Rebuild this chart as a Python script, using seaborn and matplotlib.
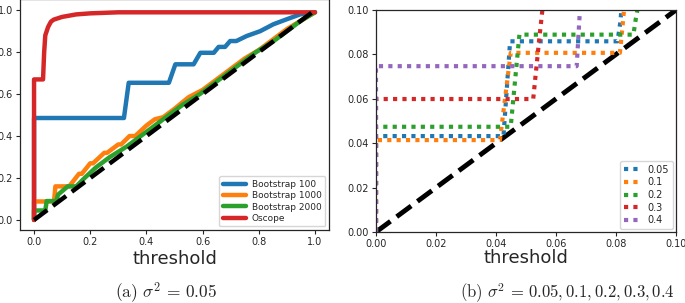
import numpy as np
import pandas as pd
import seaborn as sns
import matplotlib
matplotlib.use("Agg")
import matplotlib.pyplot as plt

sns.set_style("ticks")
plt.rcParams['font.family'] = ['DejaVu Sans']
plt.rcParams['mathtext.fontset'] = 'cm'

# ---------------- Panel (a) data ----------------
diag_x = [0.0, 1.0]
diag_y = [0.0, 1.0]

b100_x = [0.0, 0.0, 0.32, 0.337, 0.48, 0.503, 0.568, 0.592, 0.64, 0.657, 0.68, 0.698, 0.72,
          0.757, 0.805, 0.852, 0.9, 0.947, 1.0]
b100_y = [0.0, 0.486, 0.486, 0.654, 0.654, 0.742, 0.742, 0.797, 0.797, 0.825, 0.825, 0.853, 0.853,
          0.877, 0.90, 0.933, 0.957, 0.98, 0.99]

b1000_x = [0.0, 0.0, 0.071, 0.076, 0.12, 0.125, 0.16, 0.17, 0.2, 0.21, 0.25, 0.26, 0.3, 0.31,
           0.34, 0.36, 0.4, 0.43, 0.46, 0.5, 0.55, 0.6, 0.65, 0.7, 0.75, 0.8, 0.85, 0.9, 0.95, 1.0]
b1000_y = [0.0, 0.088, 0.088, 0.16, 0.16, 0.16, 0.22, 0.22, 0.27, 0.27, 0.32, 0.32, 0.36, 0.36,
           0.40, 0.40, 0.45, 0.48, 0.49, 0.53, 0.585, 0.62, 0.67, 0.72, 0.77, 0.81, 0.86, 0.91, 0.95, 0.99]

b2000_x = [0.0, 0.0, 0.04, 0.045, 0.08, 0.085, 0.12, 0.15, 0.18, 0.22, 0.27, 0.33, 0.38, 0.43,
           0.48, 0.53, 0.59, 0.64, 0.69, 0.74, 0.79, 0.85, 0.9, 0.95, 1.0]
b2000_y = [0.0, 0.045, 0.045, 0.09, 0.09, 0.12, 0.16, 0.16, 0.20, 0.25, 0.30, 0.35, 0.40, 0.45,
           0.50, 0.55, 0.60, 0.65, 0.70, 0.75, 0.80, 0.85, 0.90, 0.95, 0.99]

osc_x = [0.0, 0.0, 0.032, 0.036, 0.04, 0.05, 0.06, 0.07, 0.1, 0.15, 0.2, 0.3, 0.5, 0.7, 1.0]
osc_y = [0.0, 0.67, 0.67, 0.80, 0.88, 0.92, 0.945, 0.955, 0.968, 0.98, 0.985, 0.99, 0.99, 0.99, 0.99]

series_a = ["Bootstrap 100", "Bootstrap 1000", "Bootstrap 2000", "Oscope"]

# ---------------- Panel (b) data ----------------
s005_x = [0.0, 0.0, 0.0425, 0.0447, 0.0805, 0.0815, 0.0818]
s005_y = [0.0, 0.0432, 0.0432, 0.0859, 0.0859, 0.095, 0.1005]
s01_x = [0.0, 0.0, 0.0413, 0.0449, 0.0813, 0.0822, 0.0827]
s01_y = [0.0, 0.0414, 0.0414, 0.0807, 0.0807, 0.093, 0.1005]
s02_x = [0.0, 0.0, 0.0449, 0.0478, 0.0858, 0.0866, 0.0872]
s02_y = [0.0, 0.0474, 0.0474, 0.0889, 0.0889, 0.096, 0.1005]
s03_x = [0.0, 0.0, 0.0524, 0.0545, 0.0555]
s03_y = [0.0, 0.0599, 0.0599, 0.088, 0.1005]
s04_x = [0.0, 0.0, 0.0669, 0.0675, 0.068]
s04_y = [0.0, 0.0747, 0.0747, 0.089, 0.1005]
series_b = ["0.05", "0.1", "0.2", "0.3", "0.4"]

pal = sns.color_palette("tab10")

fig = plt.figure(figsize=(6.85, 3.03), dpi=100)
ax1 = fig.add_axes([20/685, 1 - 230/303, 309/685, 230/303 + 0.003])
ax2 = fig.add_axes([376/685, 1 - 232/303, 300/685, 222/303])

# Panel (a)
rows = []
for name, xs, ys in zip(series_a, [b100_x, b1000_x, b2000_x, osc_x], [b100_y, b1000_y, b2000_y, osc_y]):
    for xv, yv in zip(xs, ys):
        rows.append({"series": name, "x": xv, "y": yv})
dfa = pd.DataFrame(rows)
sns.lineplot(data=dfa, x="x", y="y", hue="series", units="series", estimator=None, sort=False,
             palette=pal[:4], linewidth=3.2, ax=ax1, legend=True, hue_order=series_a)
sns.lineplot(x=diag_x, y=diag_y, color="black", linewidth=3.2, linestyle="--", ax=ax1,
             estimator=None, sort=False)
ax1.set_xlim(-0.05, 1.05)
ax1.set_ylim(-0.048, 1.053)
ax1.set_xticks([0.0, 0.2, 0.4, 0.6, 0.8, 1.0])
ax1.set_yticks([0.0, 0.2, 0.4, 0.6, 0.8, 1.0])
ax1.set_xticklabels(["0.0", "0.2", "0.4", "0.6", "0.8", "1.0"])
ax1.set_yticklabels(["0.0", "0.2", "0.4", "0.6", "0.8", "1.0"])
ax1.tick_params(labelsize=7, length=3, width=0.8, pad=2)
ax1.set_xlabel("threshold", fontsize=13, labelpad=2)
ax1.set_ylabel("")
leg = ax1.legend(loc="lower right", fontsize=6.5, frameon=True, handlelength=2.5,
                 borderaxespad=0.4, labelspacing=0.25, handletextpad=0.7)
for line in leg.get_lines():
    line.set_linewidth(3.2)
for sp in ax1.spines.values():
    sp.set_linewidth(0.9)
    sp.set_visible(True)

# Panel (b)
rows = []
for name, xs, ys in zip(series_b, [s005_x, s01_x, s02_x, s03_x, s04_x],
                        [s005_y, s01_y, s02_y, s03_y, s04_y]):
    for xv, yv in zip(xs, ys):
        rows.append({"series": name, "x": xv, "y": yv})
dfb = pd.DataFrame(rows)
sns.lineplot(x=[0.0, 0.1], y=[0.0, 0.1], color="black", linewidth=3.5, linestyle="--", ax=ax2,
             estimator=None, sort=False)
for k, name in enumerate(series_b):
    sub = dfb[dfb["series"] == name]
    sns.lineplot(data=sub, x="x", y="y", color=pal[k], linewidth=3.0, ax=ax2,
                 estimator=None, sort=False, label=name)
for ln in ax2.get_lines()[1:]:
    ln.set_dashes((1, 1.25))
    ln.set_dash_capstyle("butt")
ax2.set_xlim(0, 0.1)
ax2.set_ylim(0, 0.1)
ticks_b = [0.0, 0.02, 0.04, 0.06, 0.08, 0.10]
ax2.set_xticks(ticks_b)
ax2.set_yticks(ticks_b)
ax2.set_xticklabels(["0.00", "0.02", "0.04", "0.06", "0.08", "0.10"])
ax2.set_yticklabels(["0.00", "0.02", "0.04", "0.06", "0.08", "0.10"])
ax2.tick_params(labelsize=7, length=3, width=0.8, pad=2)
ax2.set_xlabel("threshold", fontsize=13, labelpad=0)
ax2.set_ylabel("")
leg2 = ax2.legend(loc="lower right", fontsize=7, frameon=True, handlelength=1.4,
                  borderaxespad=0.3, labelspacing=0.27, handletextpad=1.0)
for line in leg2.get_lines():
    line.set_linewidth(3.0)
    line.set_dashes((1, 1.25))
for sp in ax2.spines.values():
    sp.set_linewidth(0.9)
    sp.set_visible(True)

fig.text(166/685, 1 - 293/303, r"$\mathrm{(a)}\ \sigma^2 \,=\, 0.05$", fontsize=12.5,
         ha="center", va="center")
fig.text(567/685, 1 - 293/303, r"$\mathrm{(b)}\ \sigma^2 \,=\, 0.05, 0.1, 0.2, 0.3, 0.4$", fontsize=12,
         ha="center", va="center")

fig.savefig("out.png", dpi=100)
